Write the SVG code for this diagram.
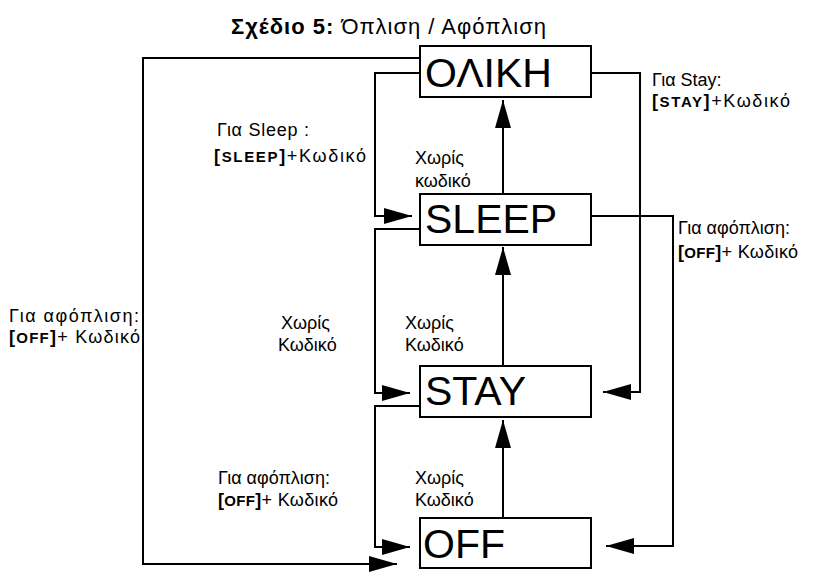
<svg xmlns="http://www.w3.org/2000/svg" width="820" height="574" viewBox="0 0 820 574">
<style>
text{font-family:"Liberation Sans",Arial,sans-serif;fill:#000}
.box{fill:#fff;stroke:#000;stroke-width:2}
.st{font-size:41px}
.lb{font-size:18px}
.b{font-weight:bold}
.sc{font-weight:bold;font-size:15px}
.c{fill:none;stroke:#000;stroke-width:2}
</style>
<defs>
<marker id="ah" viewBox="0 0 28 16" refX="28" refY="8" markerWidth="28" markerHeight="16" markerUnits="userSpaceOnUse" orient="auto">
<path d="M0,0 L28,8 L0,16 z" fill="#000"/>
</marker>
</defs>
<rect width="820" height="574" fill="#fff"/>
<text x="231" y="34" font-size="22px" textLength="315"><tspan class="b">Σχέδιο 5:</tspan> Όπλιση / Αφόπλιση</text>
<g id="connectors">
<path class="c" d="M420,58 H143 V564 H397" marker-end="url(#ah)"/>
<path class="c" d="M420,73 H375 V216 H412" marker-end="url(#ah)"/>
<path class="c" d="M591,73 H640 V392 H603" marker-end="url(#ah)"/>
<path class="c" d="M503,194 V100" marker-end="url(#ah)"/>
<path class="c" d="M420,229 H375 V393 H410" marker-end="url(#ah)"/>
<path class="c" d="M591,216 H673 V546 H606" marker-end="url(#ah)"/>
<path class="c" d="M503,366 V247" marker-end="url(#ah)"/>
<path class="c" d="M420,406 H375 V547 H410" marker-end="url(#ah)"/>
<path class="c" d="M503,518 V420" marker-end="url(#ah)"/>
</g>
<g id="oliki"><rect class="box" x="420" y="46" width="171" height="51"/><text class="st" x="425" y="87">ΟΛΙΚΗ</text></g>
<g id="sleep"><rect class="box" x="420" y="194" width="171" height="51"/><text class="st" x="425" y="233">SLEEP</text></g>
<g id="stay"><rect class="box" x="420" y="366" width="171" height="51"/><text class="st" x="425" y="405">STAY</text></g>
<g id="off"><rect class="box" x="420" y="518" width="171" height="50"/><text class="st" x="423" y="558">OFF</text></g>
<g id="labels">
<text class="lb" x="652" y="86">Για Stay:</text>
<text class="lb" x="652" y="107" textLength="138"><tspan class="b">[</tspan><tspan class="sc">STAY</tspan><tspan class="b">]</tspan>+Κωδικό</text>
<text class="lb" x="217" y="136" textLength="92">Για Sleep :</text>
<text class="lb" x="214" y="162" textLength="152"><tspan class="b">[</tspan><tspan class="sc">SLEEP</tspan><tspan class="b">]</tspan>+Κωδικό</text>
<text class="lb" x="415" y="164">Χωρίς</text>
<text class="lb" x="415" y="187">κωδικό</text>
<text class="lb" x="678" y="234">Για αφόπλιση:</text>
<text class="lb" x="678" y="258" textLength="120"><tspan class="b">[</tspan><tspan class="sc">OFF</tspan><tspan class="b">]</tspan>+ Κωδικό</text>
<text class="lb" x="9" y="322" textLength="130">Για αφόπλιση:</text>
<text class="lb" x="9" y="343" textLength="131"><tspan class="b">[</tspan><tspan class="sc">OFF</tspan><tspan class="b">]</tspan>+ Κωδικό</text>
<text class="lb" x="281" y="329">Χωρίς</text>
<text class="lb" x="278" y="351">Κωδικό</text>
<text class="lb" x="405" y="329">Χωρίς</text>
<text class="lb" x="405" y="351">Κωδικό</text>
<text class="lb" x="218" y="484">Για αφόπλιση:</text>
<text class="lb" x="218" y="506" textLength="120"><tspan class="b">[</tspan><tspan class="sc">OFF</tspan><tspan class="b">]</tspan>+ Κωδικό</text>
<text class="lb" x="415" y="484">Χωρίς</text>
<text class="lb" x="415" y="506">Κωδικό</text>
</g>
</svg>
